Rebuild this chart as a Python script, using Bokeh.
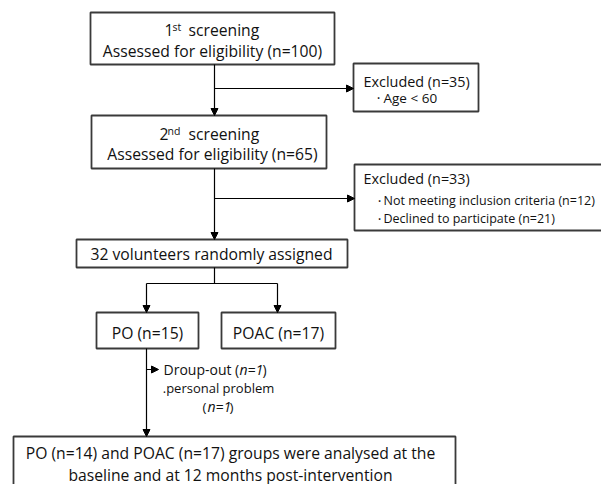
from bokeh.plotting import figure
from bokeh.models import Range1d, Arrow, NormalHead, ColumnDataSource
from bokeh.core.properties import value
from bokeh.embed import file_html
from bokeh.resources import INLINE

# ---- data (values of the flow diagram) ----
screenings = ["1", "2"]
screening_sup = ["st", "nd"]
assessed_n = [100, 65]
excluded_n = [35, 33]
excl1_reasons = ["Age < 60"]
excl2_reasons = ["Not meeting inclusion criteria", "Declined to participate"]
excl2_reason_n = [12, 21]
randomized_n = 32
groups = ["PO", "POAC"]
allocated_n = [15, 17]
dropout_n = 1
dropout_reason = ".personal problem"
analysed_n = [14, 17]
followup_months = 12

FONT = value("Open Sans")
W, H = 601, 484
p = figure(width=W, height=H, output_backend="svg", toolbar_location=None,
           x_range=Range1d(0, W), y_range=Range1d(H, 0),
           x_axis_type=None, y_axis_type=None, min_border=0)
p.outline_line_color = None
p.grid.visible = False
p.background_fill_color = "white"

BOX = dict(fill_color="white", line_color="#3a3a3a", line_width=1.8)

# ---- boxes (page pixel coords) ----
bl = [90, 91, 76, 96, 221, 13, 353, 354]
br = [334, 326, 347, 198, 335, 455, 478, 610]
bt = [12, 115, 239, 312, 312, 436, 63, 164]
bb = [64, 168, 267, 348, 348, 495, 111, 230]
p.quad(left=bl, right=br, top=bt, bottom=bb, **BOX)

# ---- connector lines ----
p.segment(x0=[214, 146], y0=[267, 283], x1=[214, 277], y1=[283, 283],
          line_color="black", line_width=1.2)

arrows = ColumnDataSource(dict(
    xs=[214, 214, 214, 214, 146, 277, 146, 146],
    ys=[64, 88, 168, 198, 283, 283, 348, 369],
    xe=[214, 353, 214, 354, 146, 277, 146, 158],
    ye=[115, 88, 239, 198, 312, 312, 436, 369],
))
p.add_layout(Arrow(source=arrows, x_start="xs", y_start="ys", x_end="xe", y_end="ye",
                   line_color="black", line_width=1.2,
                   end=NormalHead(size=7, fill_color="black", line_color="black")))

def txt(x, y, s, size="15.7px", align="center", style="normal"):
    p.text(x=[x], y=[y], text=[s], text_font=FONT, text_font_size=size,
           text_align=align, text_baseline="middle", text_color="#111111",
           text_font_style=style)

# screening boxes
for i, (ycen, y2, xs) in enumerate([(29, 50, 164), (133, 153, 159)]):
    txt(xs, ycen, screenings[i], align="left")
    txt(xs + 8, ycen - 3, screening_sup[i], size="10.5px", align="left")
    txt(188, ycen, "screening", align="left")
    txt(212, y2, f"Assessed for eligibility (n={assessed_n[i]})")

# excluded 1
txt(363, 81, f"Excluded (n={excluded_n[0]})", size="14.4px", align="left")
txt(378, 97, "\u00b7", size="14px")
txt(383, 97, excl1_reasons[0], size="13.5px", align="left")

# excluded 2
txt(363, 178, f"Excluded (n={excluded_n[1]})", size="14.4px", align="left")
for k, yy in enumerate([200, 218]):
    txt(379, yy, "\u00b7", size="14px")
    txt(383, yy, f"{excl2_reasons[k]} (n={excl2_reason_n[k]})",
        size="12.5px", align="left")

# randomised
txt(211, 253, f"{randomized_n} volunteers randomly assigned")

# groups
txt(147, 332, f"{groups[0]} (n={allocated_n[0]})")
txt(278, 332, f"{groups[1]} (n={allocated_n[1]})")

# drop-out
txt(163, 369, "Droup-out (", size="14px", align="left")
txt(239, 369, f"n={dropout_n}", size="14px", align="left", style="italic")
txt(262, 369, ")", size="14px", align="left")
txt(218, 387, dropout_reason, size="13px")
txt(202, 406, "(", size="13.5px", align="left")
txt(207, 406, f"n={dropout_n}", size="14px", align="left", style="italic")
txt(229, 406, ")", size="13.5px", align="left")

# analysed
txt(230, 452, f"{groups[0]} (n={analysed_n[0]}) and {groups[1]} (n={analysed_n[1]}) "
    "groups were analysed at the")
txt(230, 474, f"baseline and at {followup_months} months post-intervention")

open("out.html", "w").write(file_html(p, INLINE))
